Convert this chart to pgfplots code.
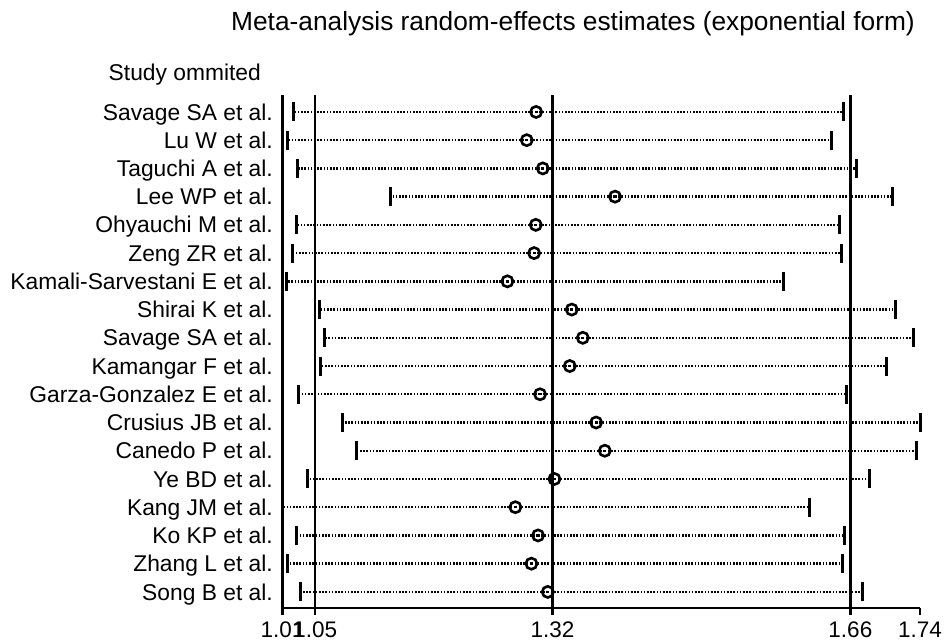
\documentclass[border=0pt]{standalone}
\usepackage{pgfplots}
\usepackage{pgfplotstable}
\usepackage{fontspec}
\setmainfont{Liberation Sans}
\pgfplotsset{compat=1.18}
\pgfplotstableread{
row lo est hi
18 1.0241 1.3012 1.6520
17 1.0173 1.2905 1.6379
16 1.0287 1.3088 1.6673
15 1.1345 1.3913 1.7079
14 1.0272 1.3008 1.6474
13 1.0230 1.2989 1.6493
12 1.0166 1.2684 1.5835
11 1.0538 1.3419 1.7110
10 1.0600 1.3545 1.7323
9 1.0549 1.3396 1.7018
8 1.0295 1.3057 1.6554
7 1.0797 1.3697 1.7395
6 1.0960 1.3796 1.7350
5 1.0401 1.3221 1.6813
4 1.0116 1.2775 1.6136
3 1.0280 1.3034 1.6531
2 1.0173 1.2958 1.6508
1 1.0326 1.3145 1.6737
}\studies
\begin{document}
\begin{tikzpicture}
\begin{axis}[
  name=ax,
  scale only axis,
  width=637.5bp, height=513bp,
  xmin=1.0116, xmax=1.7395,
  ymin=0.43, ymax=18.6,
  clip=false,
  axis x line=bottom,
  axis y line=left,
  x axis line style={-, line width=2bp},
  y axis line style={draw=none},
  xtick={1.0116,1.0489,1.32,1.66,1.7395},
  xticklabels={1.01,1.05,1.32,1.66,1.74},
  xtick align=outside,
  major tick length=7bp,
  xtick style={line width=2.5bp, black},
  ytick={1,...,18},
  ytick style={draw=none},
  yticklabels={Song B et al., Zhang L et al., Ko KP et al., Kang JM et al., Ye BD et al., Canedo P et al., Crusius JB et al., Garza-Gonzalez E et al., Kamangar F et al., Savage SA et al., Shirai K et al., Kamali-Sarvestani E et al., Zeng ZR et al., Ohyauchi M et al., Lee WP et al., Taguchi A et al., Lu W et al., Savage SA et al.},
  yticklabel style={font=\fontsize{22.8bp}{26bp}\selectfont, anchor=east, inner sep=0pt, text height=16.2bp, text depth=0pt, xshift=-6bp},
  xticklabel style={font=\fontsize{22.5bp}{26bp}\selectfont, anchor=north, inner sep=0pt, text height=16bp, text depth=0pt, yshift=-6bp},
  /pgf/number format/assume math mode=true,
]
% vertical reference lines
\addplot[line width=2.5bp, black] coordinates {(1.0116,0.43) (1.0116,18.6)};
\addplot[line width=2.5bp, black] coordinates {(1.0489,0.43) (1.0489,18.6)};
\addplot[line width=2.5bp, black] coordinates {(1.32,0.43) (1.32,18.6)};
\addplot[line width=2.5bp, black] coordinates {(1.66,0.43) (1.66,18.6)};
% dotted CI lines
\addplot[draw=none, mark=none, black,
  error bars/.cd, x dir=both, x explicit, error mark=none,
  error bar style={line width=2.4bp, dash pattern=on 1.6bp off 1.6bp}]
  table[x=est, y=row,
    x error plus expr={\thisrow{hi}-\thisrow{est}},
    x error minus expr={\thisrow{est}-\thisrow{lo}}] {\studies};
% caps
\addplot[only marks, mark=|, mark size=9.5bp, black, mark options={line width=3bp, solid}]
  table[x=lo, y=row] {\studies};
\addplot[only marks, mark=|, mark size=9.5bp, black, mark options={line width=3bp, solid}]
  table[x=hi, y=row] {\studies};
% estimates
\addplot[only marks, mark=o, mark size=5.6bp, black, mark options={line width=2.6bp, solid}]
  table[x=est, y=row] {\studies};
\node[anchor=base, font=\fontsize{26.3bp}{30bp}\selectfont] at (rel axis cs:0.4557,1.1267) {Meta-analysis random-effects estimates (exponential form)};
\node[anchor=base east, inner sep=0pt, font=\fontsize{22.8bp}{26bp}\selectfont] at (rel axis cs:-0.0337,1.0273) {Study ommited};
\end{axis}
\pgfresetboundingbox
\path[use as bounding box] (ax.south west) ++(-282.5bp,-33bp) rectangle ++(949bp,641bp);
\end{tikzpicture}
\end{document}
